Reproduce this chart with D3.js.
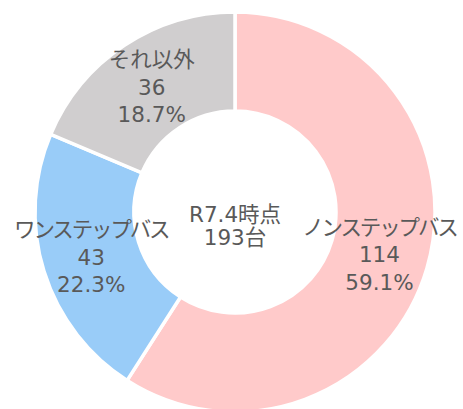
<!DOCTYPE html>
<html>
<head>
<meta charset="utf-8">
<script src="https://cdn.jsdelivr.net/npm/d3@7/dist/d3.min.js"></script>
<style>
  html, body { margin: 0; padding: 0; background: #fff; }
  svg { display: block; }
</style>
</head>
<body>
<svg id="chart" width="463" height="409"></svg>
<script>
// Bus fleet breakdown (as of R7.4)
const categories = ["ノンステップバス", "ワンステップバス", "それ以外"];
const counts = [114, 43, 36];
const percents = ["59.1%", "22.3%", "18.7%"];
const colors = ["#FFCACA", "#99CCF8", "#D0CECF"];
const centerLines = ["R7.4時点", "193台"];

const cx = 235, cy = 212;
const outerR = 200, innerR = 101;
const fontFamily = "'DejaVu Sans', 'Noto Sans CJK JP', sans-serif";
const fontSize = 21.5;
const textColor = "#595959";
const lineGap = 27.5;
const katakana = /^[\u30A0-\u30FF]+$/;

const svg = d3.select("#chart");
const g = svg.append("g").attr("transform", `translate(${cx},${cy})`);

const pie = d3.pie().sort(null).value(d => d.count);
const data = categories.map((c, i) => ({ name: c, count: counts[i], pct: percents[i], color: colors[i] }));
const arcs = pie(data);

const arc = d3.arc().innerRadius(innerR).outerRadius(outerR);

g.selectAll("path.slice")
  .data(arcs)
  .join("path")
  .attr("class", "slice")
  .attr("d", arc)
  .attr("fill", d => d.data.color)
  .attr("stroke", "#fff")
  .attr("stroke-width", 3.5)
  .attr("stroke-linejoin", "miter");

// Slice labels: name, count, percentage stacked at the ring's mid radius
const labels = g.selectAll("g.label")
  .data(arcs)
  .join("g")
  .attr("class", "label")
  .attr("transform", d => `translate(${arc.centroid(d)})`);

labels.each(function(d) {
  const lines = [d.data.name, String(d.data.count), d.data.pct];
  d3.select(this).selectAll("text")
    .data(lines)
    .join("text")
    .attr("x", 0)
    .attr("y", (l, i) => (i - 1) * lineGap)
    .attr("dy", "0.37em")
    .attr("text-anchor", "middle")
    .attr("font-family", fontFamily)
    .attr("font-size", fontSize)
    .attr("letter-spacing", l => katakana.test(l) ? "-0.1em" : null)
    .attr("fill", textColor)
    .text(l => l);
});

// Centre caption
g.selectAll("text.center")
  .data(centerLines)
  .join("text")
  .attr("class", "center")
  .attr("x", 0)
  .attr("y", (l, i) => 10 + i * 23)
  .attr("text-anchor", "middle")
  .attr("font-family", fontFamily)
  .attr("font-size", fontSize)
  .attr("fill", textColor)
  .text(l => l);
</script>
</body>
</html>
